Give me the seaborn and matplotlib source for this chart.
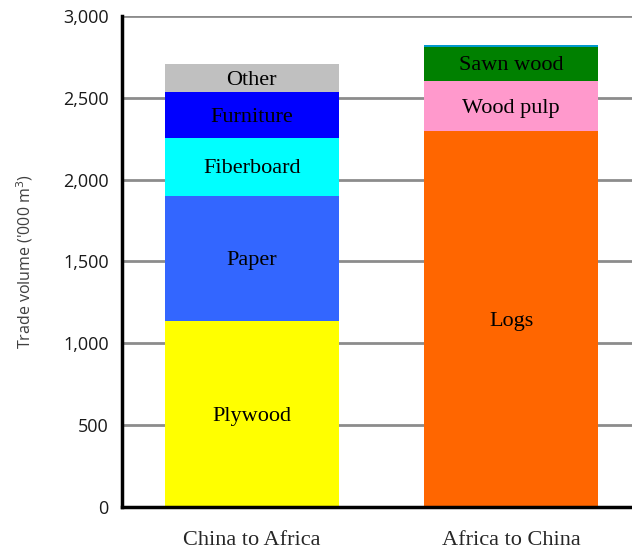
import matplotlib
matplotlib.use("Agg")
import matplotlib.pyplot as plt
import seaborn as sns
import pandas as pd
from matplotlib.ticker import FuncFormatter, FixedLocator

sns.set_style("white")
plt.rcParams['font.family'] = ['Open Sans', 'DejaVu Sans']

categories = ["China to Africa", "Africa to China"]

# segments per bar, bottom to top
china_labels = ["Plywood", "Paper", "Fiberboard", "Furniture", "Other"]
china_values = [1135, 765, 355, 280, 170]
china_colors = ["#ffff00", "#3366ff", "#00ffff", "#0000ff", "#c0c0c0"]

africa_labels = ["Logs", "Wood pulp", "Sawn wood", ""]
africa_values = [2295, 308, 210, 12]
africa_colors = ["#ff6600", "#ff99cc", "#008000", "#0099cc"]

yticks = [0, 500, 1000, 1500, 2000, 2500, 3000]

fig = plt.figure(figsize=(6.32, 5.54), dpi=100)
ax = fig.add_axes([0.193, 0.085, 0.807, 0.886])

serif = ['Liberation Serif', 'DejaVu Serif']

def draw_stack(cat, labels, values, colors):
    cum = []
    s = 0
    for v in values:
        s += v
        cum.append(s)
    # draw from top to bottom so lower layers overlay
    for i in range(len(values) - 1, -1, -1):
        df = pd.DataFrame({"cat": [cat], "val": [cum[i]]})
        sns.barplot(data=df, x="cat", y="val", order=categories, color=colors[i],
                    saturation=1, width=0.67, ax=ax, errorbar=None, linewidth=0,
                    zorder=3)
    xi = categories.index(cat)
    for i, lab in enumerate(labels):
        if lab:
            mid = cum[i] - values[i] / 2
            ax.text(xi, mid - 12, lab, ha="center", va="center", fontsize=16,
                    family=serif, color="black", zorder=5)

draw_stack(categories[0], china_labels, china_values, china_colors)
draw_stack(categories[1], africa_labels, africa_values, africa_colors)

ax.set_ylim(0, 3000)
ax.set_xlim(-0.5, 1.465)
ax.set_yticks(yticks)
ax.yaxis.set_major_formatter(FuncFormatter(lambda v, p: f"{int(v):,}"))
ax.yaxis.grid(True, color="#8c8c8c", linewidth=2, zorder=0)
ax.set_axisbelow(True)

ax.set_xticks([0, 1])
ax.set_xticklabels(categories, family=serif, fontsize=16)
ax.tick_params(axis="x", which="major", length=0, pad=17)
ax.xaxis.set_minor_locator(FixedLocator([0.5]))
ax.tick_params(axis="x", which="minor", length=7, width=2, direction="out", color="black")
ax.tick_params(axis="y", length=9, width=2, direction="inout", color="black",
               labelsize=13, pad=5)
for lab in ax.get_yticklabels():
    lab.set_color("#1a1a1a")

for side in ["top", "right"]:
    ax.spines[side].set_visible(False)
for side in ["left", "bottom"]:
    ax.spines[side].set_color("black")
    ax.spines[side].set_linewidth(2.5)
    ax.spines[side].set_zorder(6)

ax.set_xlabel("")
ax.set_ylabel("Trade volume ('000 m$^3$)", fontsize=11.5, color="#404040", labelpad=20)

fig.savefig("out.png", dpi=100)
